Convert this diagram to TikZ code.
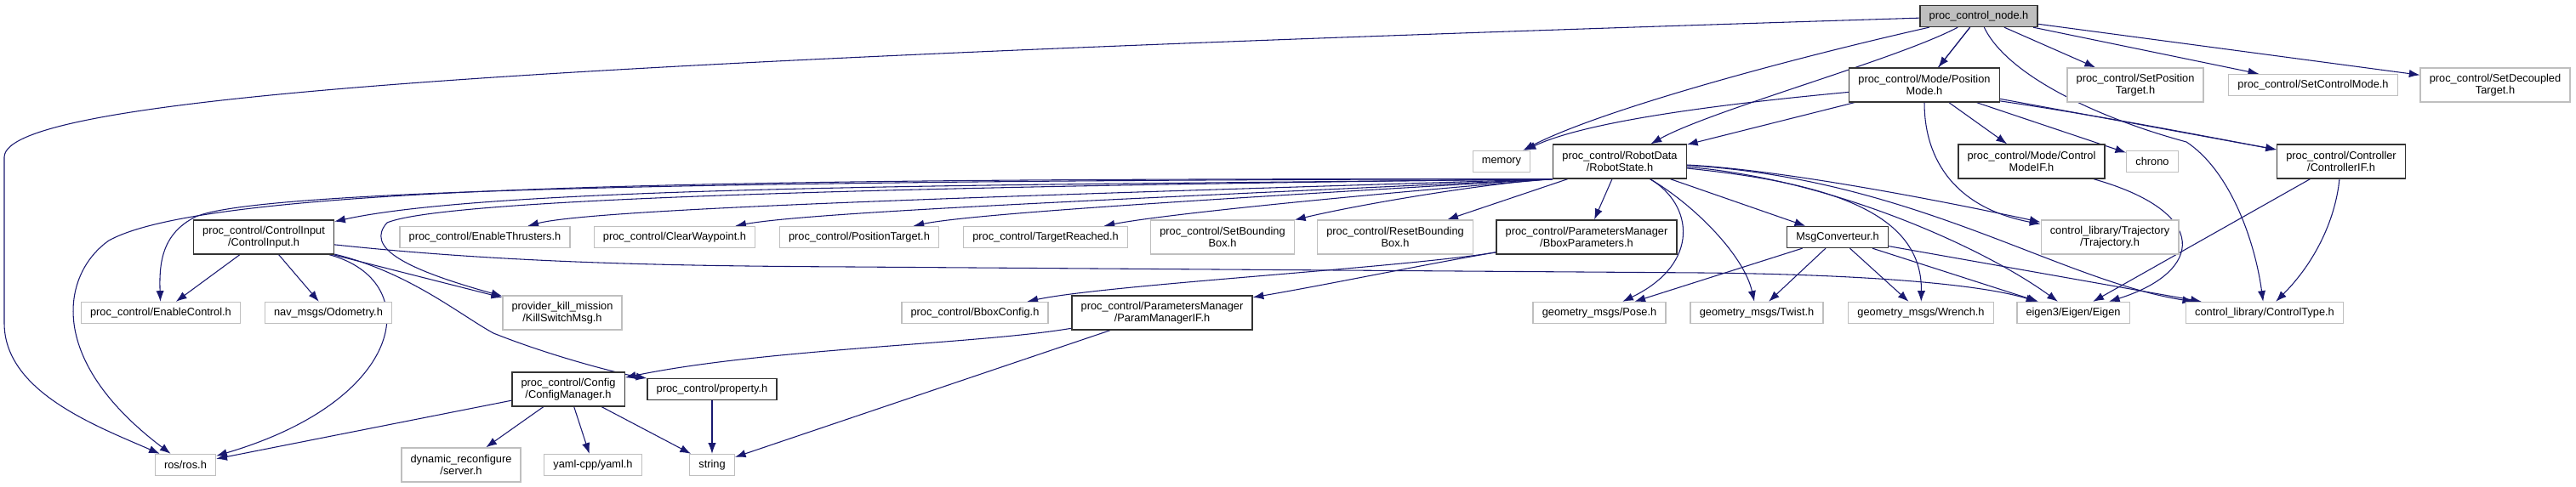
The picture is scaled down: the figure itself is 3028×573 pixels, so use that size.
\documentclass[tikz,border=0pt]{standalone}
\usepackage{fontspec}
\setmainfont{Liberation Sans}
\usetikzlibrary{arrows.meta,backgrounds}
\definecolor{incblue}{RGB}{25,25,112}
\definecolor{leafgray}{RGB}{191,191,191}
\begin{document}
\begin{tikzpicture}[
		x=0.75pt, y={(0pt,-0.75pt)},
		every node/.style={rectangle, fill=white, align=center, font=\fontsize{9.6}{10.5}\selectfont, inner xsep=8pt, inner ysep=0pt, minimum height=18.75pt},
		leafbox/.style={draw=leafgray, line width=1pt},
		docbox/.style={draw=black!80, line width=1pt},
		rootbox/.style={draw=black!80, fill=leafgray, line width=1pt},
		tallbox/.style={minimum height=30pt},
		incl/.style={draw=incblue, line width=0.8pt, -{Latex[length=9.5pt,width=7pt]}}
	]
		\useasboundingbox (0,0) rectangle (3028,573);

		% Row 0
		\node[rootbox] (n_main) at (2326,19) {proc\_control\_node.h};

		% Row 1
		\node[docbox, tallbox] (posmode) at (2262,100) {proc\_control/Mode/Position\\Mode.h};
		\node[leafbox, tallbox] (setpos) at (2510,100) {proc\_control/SetPosition\\Target.h};
		\node[leafbox] (setmode) at (2719,100) {proc\_control/SetControlMode.h};
		\node[leafbox, tallbox] (setdec) at (2933,100) {proc\_control/SetDecoupled\\Target.h};

		% Row 2
		\node[leafbox] (memory) at (1765,190) {memory};
		\node[docbox, tallbox] (robotstate) at (1904,190) {proc\_control/RobotData\\/RobotState.h};
		\node[docbox, tallbox] (ctrlmode) at (2388,190) {proc\_control/Mode/Control\\ModeIF.h};
		\node[leafbox] (chrono) at (2530,190) {chrono};
		\node[docbox, tallbox] (ctrlif) at (2752,190) {proc\_control/Controller\\/ControllerIF.h};

		% Row 3
		\node[docbox, tallbox] (ctrlinput) at (310,279) {proc\_control/ControlInput\\/ControlInput.h};
		\node[leafbox] (enthr) at (570,279) {proc\_control/EnableThrusters.h};
		\node[leafbox] (clearwp) at (793,279) {proc\_control/ClearWaypoint.h};
		\node[leafbox] (postarget) at (1010,279) {proc\_control/PositionTarget.h};
		\node[leafbox] (treached) at (1229,279) {proc\_control/TargetReached.h};
		\node[leafbox, tallbox] (setbb) at (1437,279) {proc\_control/SetBounding\\Box.h};
		\node[leafbox, tallbox] (resetbb) at (1640,279) {proc\_control/ResetBounding\\Box.h};
		\node[docbox, tallbox] (bboxparams) at (1865,279) {proc\_control/ParametersManager\\/BboxParameters.h};
		\node[docbox] (msgconv) at (2160,279) {MsgConverteur.h};
		\node[leafbox, tallbox] (traj) at (2480,279) {control\_library/Trajectory\\/Trajectory.h};

		% Row 4
		\node[leafbox] (enctrl) at (189,368) {proc\_control/EnableControl.h};
		\node[leafbox] (odom) at (386,368) {nav\_msgs/Odometry.h};
		\node[leafbox, tallbox] (killsw) at (661,368) {provider\_kill\_mission\\/KillSwitchMsg.h};
		\node[leafbox] (bboxcfg) at (1146,368) {proc\_control/BboxConfig.h};
		\node[docbox, tallbox] (parammgr) at (1366,368) {proc\_control/ParametersManager\\/ParamManagerIF.h};
		\node[leafbox] (pose) at (1880,368) {geometry\_msgs/Pose.h};
		\node[leafbox] (twist) at (2065,368) {geometry\_msgs/Twist.h};
		\node[leafbox] (wrench) at (2258,368) {geometry\_msgs/Wrench.h};
		\node[leafbox] (eigen) at (2437,368) {eigen3/Eigen/Eigen};
		\node[leafbox] (ctype) at (2662,368) {control\_library/ControlType.h};

		% Row 5
		\node[docbox, tallbox] (cfgmgr) at (668,458) {proc\_control/Config\\/ConfigManager.h};
		\node[docbox] (property) at (837,458) {proc\_control/property.h};

		% Row 6
		\node[leafbox] (ros) at (218,547) {ros/ros.h};
		\node[leafbox, tallbox] (dynrec) at (542,547) {dynamic\_reconfigure\\/server.h};
		\node[leafbox] (yaml) at (697,547) {yaml-cpp/yaml.h};
		\node[leafbox] (string) at (837,547) {string};

		\begin{pgfonlayer}{background}
		% proc_control_node.h
		\draw[incl] (n_main) .. controls (700,70) and (5,110) .. (5,185) -- (5,380) .. controls (5,460) and (110,500) .. (ros);
		\draw[incl] (n_main) .. controls (2100,70) and (1880,130) .. (memory);
		\draw[incl] (n_main) .. controls (2230,70) and (2010,130) .. (robotstate);
		\draw[incl] (n_main) -- (posmode);
		\draw[incl] (n_main) -- (2270,90) .. controls (2320,112) and (2340,118) .. (2352,119) .. controls (2480,138) and (2600,162) .. (ctrlif);
		\draw[incl] (n_main) .. controls (2360,90) and (2470,140) .. (2570,167) .. controls (2620,200) and (2650,280) .. (ctype);
		\draw[incl] (n_main) -- (setpos);
		\draw[incl] (n_main) -- (setmode);
		\draw[incl] (n_main) -- (setdec);

		% Position mode
		\draw[incl] (posmode) .. controls (2050,120) and (1870,140) .. (memory);
		\draw[incl] (posmode) -- (robotstate);
		\draw[incl] (posmode) -- (ctrlmode);
		\draw[incl] (posmode) -- (chrono);
		\draw[incl] (posmode) -- (ctrlif);
		\draw[incl] (posmode) .. controls (2262,190) and (2300,245) .. (traj);

		% Robot state
		\draw[incl] (robotstate.south west) .. controls (900,210) and (250,215) .. (128,283) .. controls (75,320) and (50,420) .. (ros);
		\draw[incl] (robotstate.south west) .. controls (800,212) and (300,225) .. (230,255) .. controls (190,275) and (187,310) .. (enctrl);
		\draw[incl] (robotstate.south west) .. controls (1300,218) and (600,215) .. (ctrlinput);
		\draw[incl] (robotstate.south west) .. controls (1000,220) and (520,235) .. (455,262) .. controls (430,290) and (470,315) .. (killsw);
		\draw[incl] (robotstate.south west) .. controls (1200,230) and (700,245) .. (enthr);
		\draw[incl] (robotstate.south west) .. controls (1300,235) and (950,250) .. (clearwp);
		\draw[incl] (robotstate.south west) .. controls (1500,230) and (1150,250) .. (postarget);
		\draw[incl] (robotstate.south west) .. controls (1650,225) and (1380,250) .. (treached);
		\draw[incl] (robotstate.south west) .. controls (1750,215) and (1600,240) .. (setbb);
		\draw[incl] (robotstate) -- (resetbb);
		\draw[incl] (robotstate) -- (bboxparams);
		\draw[incl] (robotstate) -- (msgconv);
		\draw[incl] (robotstate) .. controls (1990,240) and (2000,310) .. (pose);
		\draw[incl] (robotstate) .. controls (1990,240) and (2050,300) .. (twist);
		\draw[incl] (robotstate) .. controls (2150,215) and (2260,250) .. (wrench);
		\draw[incl] (robotstate) .. controls (2150,210) and (2330,290) .. (eigen);
		\draw[incl] (robotstate) .. controls (2100,200) and (2300,240) .. (traj);
		\draw[incl] (robotstate) .. controls (2250,210) and (2420,330) .. (ctype);

		% Control input
		\draw[incl] (ctrlinput) -- (enctrl);
		\draw[incl] (ctrlinput) -- (odom);
		\draw[incl] (ctrlinput) -- (killsw);
		\draw[incl] (ctrlinput) .. controls (500,330) and (480,470) .. (ros);
		\draw[incl] (ctrlinput) .. controls (480,320) and (540,370) .. (580,392) .. controls (650,420) and (730,440) .. (property);
		\draw[incl] (ctrlinput) .. controls (600,310) and (800,313) .. (1000,314) -- (2000,321) .. controls (2200,323) and (2330,335) .. (eigen);

		% Parameters manager
		\draw[incl] (bboxparams) .. controls (1650,315) and (1300,335) .. (bboxcfg);
		\draw[incl] (bboxparams) .. controls (1680,310) and (1560,335) .. (parammgr);
		\draw[incl] (parammgr) .. controls (1150,405) and (900,410) .. (cfgmgr);
		\draw[incl] (parammgr) -- (string);

		% Config manager and property
		\draw[incl] (cfgmgr) -- (ros);
		\draw[incl] (cfgmgr) -- (dynrec);
		\draw[incl] (cfgmgr) -- (yaml);
		\draw[incl] (cfgmgr) -- (string);
		\draw[incl] (property) -- (string);

		% Msg converteur
		\draw[incl] (msgconv) -- (pose);
		\draw[incl] (msgconv) -- (twist);
		\draw[incl] (msgconv) -- (wrench);
		\draw[incl] (msgconv) -- (eigen);
		\draw[incl] (msgconv) -- (ctype);

		% Control mode and controller
		\draw[incl] (ctrlmode) .. controls (2600,250) and (2590,320) .. (eigen);
		\draw[incl] (ctrlif) -- (eigen);
		\draw[incl] (ctrlif) .. controls (2745,260) and (2720,310) .. (ctype);
		\end{pgfonlayer}
	\end{tikzpicture}
\end{document}
